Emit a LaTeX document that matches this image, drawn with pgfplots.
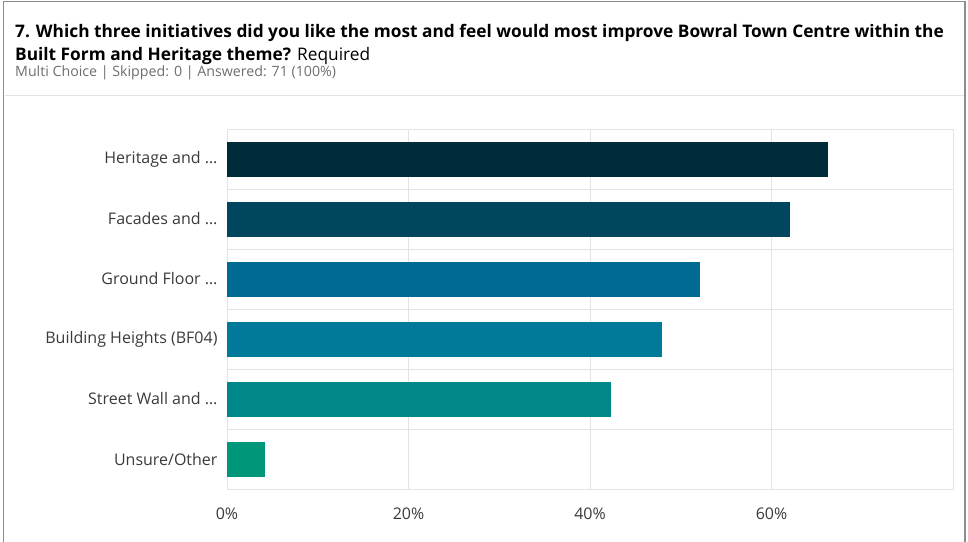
\documentclass[border=0pt]{standalone}
\usepackage{fontspec}
\setmainfont{Open Sans}
\usepackage{pgfplots}
\pgfplotsset{compat=1.18}
\definecolor{cA}{HTML}{002B3B}
\definecolor{cB}{HTML}{00465F}
\definecolor{cC}{HTML}{006994}
\definecolor{cD}{HTML}{007A98}
\definecolor{cE}{HTML}{00878A}
\definecolor{cF}{HTML}{009679}
\definecolor{framegray}{HTML}{8C8C8C}
\definecolor{headline}{HTML}{E2E2E2}
\definecolor{gridgray}{HTML}{E3E3E3}
\definecolor{subgray}{HTML}{6E6E6E}
\definecolor{labgray}{HTML}{3A3A3A}
\begin{document}
\begin{tikzpicture}
\path[use as bounding box] (0pt,0pt) rectangle (968pt,541pt);
\draw[color=framegray, line width=1.5pt] (3.5pt,-5pt) -- (3.5pt,539.5pt) -- (965pt,539.5pt) -- (965pt,-5pt);
\draw[color=headline, line width=1pt] (4.5pt,445pt) -- (964pt,445pt);
\node[anchor=base west, inner sep=0pt, font=\bfseries\fontsize{17.3}{20}\selectfont] at (15pt,503.5pt) {7. Which three initiatives did you like the most and feel would most improve Bowral Town Centre within the};
\node[anchor=base west, inner sep=0pt, font=\fontsize{17.3}{20}\selectfont] at (15pt,480.5pt) {\textbf{Built Form and Heritage theme?} Required};
\node[anchor=base west, inner sep=0pt, text=subgray, font=\fontsize{14.2}{16}\selectfont] at (15pt,464pt) {Multi Choice | Skipped: 0 | Answered: 71 (100\%)};
\begin{axis}[
  at={(227pt,52pt)}, anchor=south west,
  scale only axis, width=726pt, height=360pt,
  xmin=0, xmax=80, ymin=-0.5, ymax=5.5,
  xbar, bar width=35pt, bar shift=0pt,
  xtick={0,20,40,60}, xticklabels={0\%,20\%,40\%,60\%},
  ytick={0,1,2,3,4,5},
  yticklabels={Unsure/Other, Street Wall and \dots, Building Heights (BF04), Ground Floor \dots, Facades and \dots, Heritage and \dots},
  minor ytick={-0.5,0.5,1.5,2.5,3.5,4.5,5.5},
  xmajorgrids, yminorgrids,
  grid style={color=gridgray, line width=1pt},
  minor grid style={color=gridgray, line width=1pt},
  axis line style={color=gridgray, line width=1pt},
  major tick length=0pt, minor tick length=0pt,
  tick label style={font=\fontsize{16}{19}\selectfont, text=labgray},
  yticklabel style={xshift=-6pt},
  xticklabel style={yshift=-15pt},
]
\addplot[fill=cA, draw=none] coordinates {(66.2,5)};
\addplot[fill=cB, draw=none] coordinates {(62.0,4)};
\addplot[fill=cC, draw=none] coordinates {(52.1,3)};
\addplot[fill=cD, draw=none] coordinates {(47.9,2)};
\addplot[fill=cE, draw=none] coordinates {(42.3,1)};
\addplot[fill=cF, draw=none] coordinates {(4.2,0)};
\end{axis}
\end{tikzpicture}
\end{document}
